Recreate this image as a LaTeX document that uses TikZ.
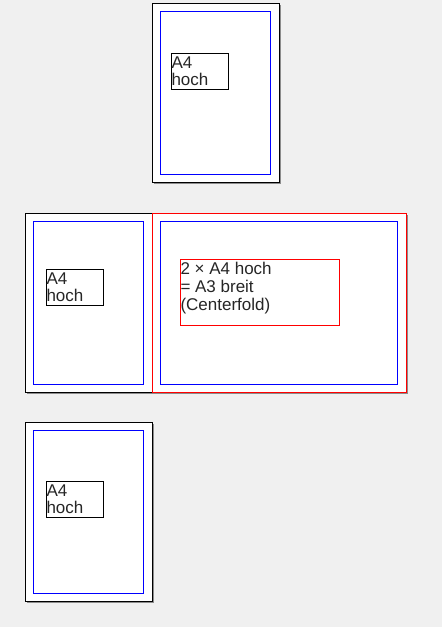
\documentclass[tikz,border=0pt]{standalone}
\usepackage{fontspec}
\setmainfont{Liberation Sans}
\usetikzlibrary{shadows}
\begin{document}
\begin{tikzpicture}[x=1pt, y=-1pt, line width=1pt,
page/.style={draw=black,fill=white,anchor=north west,inner sep=0pt,
  drop shadow={shadow xshift=1.5pt,shadow yshift=-1.5pt,fill=black!45,opacity=1}},
fold/.style={page,draw=red},
safe/.style={draw=blue,anchor=north west,inner sep=0pt},
label box/.style={draw=black,anchor=north west,inner sep=0pt},
label text/.style={anchor=north west,inner sep=0pt,align=left,text=black!85,
  font=\fontsize{17}{17.6}\selectfont}]
\fill[black!6] (0,0) rectangle (442,627);
% oben: einzelne Seite
\node[page, minimum width=127, minimum height=179] (p1) at (152,3) {};
\node[safe, minimum width=110, minimum height=163] (s1) at (160,11) {};
\node[label box, minimum width=57, minimum height=36] (b1) at (171,53) {};
\node[label text] (t1) at ([yshift=-3pt]b1.north west) {A4\\hoch};
% mitte: Seite + Centerfold
\node[page, minimum width=127, minimum height=179] (p2) at (25,213) {};
\node[safe, minimum width=110, minimum height=163] (s2) at (33,221) {};
\node[label box, minimum width=57, minimum height=36] (b2) at (46,269) {};
\node[label text] (t2) at ([yshift=-3pt]b2.north west) {A4\\hoch};
\node[fold, minimum width=254, minimum height=179] (p3) at (152,213) {};
\node[safe, minimum width=237, minimum height=163] (s3) at (160,221) {};
\node[label box, draw=red, minimum width=159, minimum height=66] (b3) at (180,259) {};
\node[label text] (t3) at ([yshift=-3pt]b3.north west) {2 × A4 hoch\\= A3 breit\\(Centerfold)};
% unten: einzelne Seite
\node[page, minimum width=127, minimum height=179] (p4) at (25,422) {};
\node[safe, minimum width=110, minimum height=163] (s4) at (33,430) {};
\node[label box, minimum width=57, minimum height=36] (b4) at (46,481) {};
\node[label text] (t4) at ([yshift=-3pt]b4.north west) {A4\\hoch};
\useasboundingbox (0,0) rectangle (442,627);
\end{tikzpicture}
\end{document}
